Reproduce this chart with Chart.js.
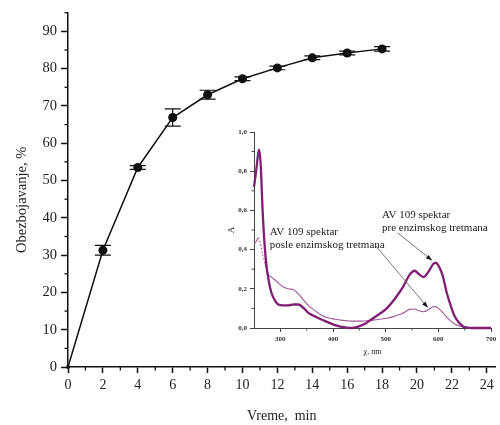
<!DOCTYPE html>
<html>
<head>
<meta charset="utf-8">
<script src="https://cdn.jsdelivr.net/npm/chart.js@4/dist/chart.umd.min.js"></script>
<style>
  html, body { margin: 0; padding: 0; background: #fff; }
  #wrap { position: relative; width: 500px; height: 425px; }
  #main { position: absolute; left: 0; top: 0; }
  #inset { position: absolute; left: 215px; top: 120px; }
</style>
</head>
<body>
<div id="wrap">
  <canvas id="main" width="500" height="425"></canvas>
  <canvas id="inset" width="285" height="245"></canvas>
</div>
<script>
// Obezbojavanje u vremenu (glavni grafik)
const vreme = [0, 2, 4, 6, 8, 10, 12, 14, 16, 18];
const obezbojavanje = [0, 31.3, 53.5, 66.9, 73.0, 77.3, 80.2, 82.9, 84.2, 85.3];
const greska = [0, 1.3, 0.5, 2.3, 1.2, 0.5, 0.5, 0.5, 0.5, 0.6];
const vremeTicks = [0, 2, 4, 6, 8, 10, 12, 14, 16, 18, 20, 22, 24];
const procTicks = [0, 10, 20, 30, 40, 50, 60, 70, 80, 90];

// UV-Vis spektar AV 109 (umetak)
const talasne = [250, 254, 258, 260, 263, 266, 270, 274, 278, 283, 290, 296, 305, 315, 325, 334,
  345, 353, 365, 378, 390, 404, 418, 430, 445, 460, 476, 490, 502, 515, 523, 533, 545, 555,
  563, 572, 582, 590, 595, 600, 608, 616, 624, 631, 640, 647, 655, 665, 680, 700];
const spektarPre = [0.72, 0.80, 0.89, 0.91, 0.82, 0.62, 0.43, 0.31, 0.24, 0.18, 0.14, 0.12, 0.115,
  0.115, 0.12, 0.12, 0.10, 0.077, 0.06, 0.043, 0.03, 0.015, 0.005, 0.0, 0.005, 0.02, 0.05, 0.075,
  0.10, 0.14, 0.17, 0.21, 0.27, 0.292, 0.275, 0.26, 0.29, 0.325, 0.333, 0.32, 0.27, 0.18, 0.11,
  0.06, 0.025, 0.008, 0.002, 0, 0, 0];
const spektarPosle = [0.43, 0.44, 0.46, 0.45, 0.42, 0.38, 0.34, 0.30, 0.27, 0.26, 0.245, 0.23, 0.21,
  0.20, 0.195, 0.175, 0.14, 0.115, 0.09, 0.065, 0.052, 0.045, 0.039, 0.036, 0.035, 0.036, 0.04,
  0.045, 0.05, 0.058, 0.066, 0.075, 0.095, 0.097, 0.088, 0.083, 0.095, 0.108, 0.109, 0.10, 0.08,
  0.055, 0.035, 0.02, 0.01, 0.005, 0.002, 0, 0, 0];
const nmTicks = [300, 400, 500, 600, 700];
const absTicks = [0, 0.2, 0.4, 0.6, 0.8, 1.0];

const serif = "'Liberation Serif', 'Times New Roman', serif";

// vertikalne linije greske sa kapicama
const errorBars = {
  id: 'errorBars',
  beforeDatasetsDraw(chart, args, opts) {
    if (!opts.errors) return;
    const {ctx, scales: {x, y}} = chart;
    const data = chart.data.datasets[0].data;
    ctx.save();
    ctx.strokeStyle = '#111';
    ctx.lineWidth = 1.2;
    data.forEach((p, i) => {
      const e = opts.errors[i];
      if (!e) return;
      const px = x.getPixelForValue(p.x);
      const top = y.getPixelForValue(p.y + e);
      const bot = y.getPixelForValue(p.y - e);
      ctx.beginPath();
      ctx.moveTo(px, top); ctx.lineTo(px, bot);
      ctx.moveTo(px - opts.cap, top); ctx.lineTo(px + opts.cap, top);
      ctx.moveTo(px - opts.cap, bot); ctx.lineTo(px + opts.cap, bot);
      ctx.stroke();
    });
    ctx.restore();
  }
};

// sitne podele izmedju glavnih podeoka
const minorTicks = {
  id: 'minorTicks',
  afterDraw(chart, args, opts) {
    const {ctx} = chart;
    ctx.save();
    ctx.strokeStyle = opts.color;
    ctx.lineWidth = opts.width;
    ['x', 'y'].forEach(id => {
      const s = chart.scales[id];
      const step = opts[id];
      const n = Math.round((s.max - s.min) / step);
      for (let i = 1; i <= n; i++) {
        const v = s.min + i * step;
        if (s.ticks.some(t => Math.abs(t.value - v) < 1e-6)) continue;
        const p = s.getPixelForValue(v);
        ctx.beginPath();
        if (id === 'x') { ctx.moveTo(p, s.top); ctx.lineTo(p, s.top + opts.len); }
        else { ctx.moveTo(s.right, p); ctx.lineTo(s.right - opts.len, p); }
        ctx.stroke();
      }
    });
    ctx.restore();
  }
};

// naslov y ose, malo ispod sredine ose
const yNaslov = {
  id: 'yNaslov',
  afterDraw(chart, args, opts) {
    const {ctx, chartArea} = chart;
    ctx.save();
    ctx.translate(opts.x, (chartArea.top + chartArea.bottom) / 2 + opts.dy);
    ctx.rotate(-Math.PI / 2);
    ctx.font = opts.size + 'px ' + serif;
    ctx.fillStyle = '#222';
    ctx.textAlign = 'center';
    ctx.textBaseline = 'middle';
    ctx.fillText(opts.text, 0, 0);
    ctx.restore();
  }
};

// natpisi i strelice u umetku
const opisi = {
  id: 'opisi',
  afterDatasetsDraw(chart, args, opts) {
    const {ctx, scales: {x, y}} = chart;
    ctx.save();
    ctx.font = '11px ' + serif;
    ctx.fillStyle = '#222';
    ctx.textBaseline = 'middle';
    opts.labels.forEach(l => {
      l.lines.forEach((t, i) => ctx.fillText(t, x.getPixelForValue(l.nm), y.getPixelForValue(l.a) + i * 13));
    });
    opts.arrows.forEach(a => {
      const x0 = x.getPixelForValue(a.from[0]), y0 = y.getPixelForValue(a.from[1]);
      const x1 = x.getPixelForValue(a.to[0]), y1 = y.getPixelForValue(a.to[1]);
      const ang = Math.atan2(y1 - y0, x1 - x0);
      ctx.strokeStyle = '#666';
      ctx.lineWidth = 0.9;
      ctx.beginPath(); ctx.moveTo(x0, y0); ctx.lineTo(x1, y1); ctx.stroke();
      ctx.fillStyle = '#111';
      ctx.beginPath();
      ctx.moveTo(x1, y1);
      ctx.lineTo(x1 - 6 * Math.cos(ang) + 2.2 * Math.sin(ang), y1 - 6 * Math.sin(ang) - 2.2 * Math.cos(ang));
      ctx.lineTo(x1 - 6 * Math.cos(ang) - 2.2 * Math.sin(ang), y1 - 6 * Math.sin(ang) + 2.2 * Math.cos(ang));
      ctx.closePath(); ctx.fill();
    });
    ctx.restore();
  }
};

new Chart(document.getElementById('main'), {
  type: 'line',
  data: {
    datasets: [{
      data: vreme.map((t, i) => ({x: t, y: obezbojavanje[i]})),
      borderColor: '#111',
      borderWidth: 1.5,
      pointRadius: vreme.map(t => t === 0 ? 2 : 4.5),
      pointBackgroundColor: '#111',
      pointBorderWidth: 0,
      tension: 0,
      clip: false
    }]
  },
  options: {
    responsive: false,
    animation: false,
    layout: {padding: {top: 12, right: 3, left: 0, bottom: 0}},
    plugins: {
      legend: {display: false},
      tooltip: {enabled: false},
      errorBars: {errors: greska, cap: 8},
      minorTicks: {x: 1, y: 5, len: 3.5, color: '#111', width: 1.3},
      yNaslov: {text: 'Obezbojavanje, %', x: 22, dy: 10, size: 14.5}
    },
    scales: {
      x: {
        type: 'linear', min: 0, max: 24.5,
        afterBuildTicks: s => { s.ticks = vremeTicks.map(v => ({value: v})); },
        afterFit: s => { s.height = 58; },
        border: {color: '#111', width: 1.5},
        grid: {drawOnChartArea: false, tickLength: 6, tickWidth: 1.5, tickColor: '#111'},
        ticks: {font: {family: serif, size: 14}, color: '#222', padding: 4, maxRotation: 0},
        title: {display: true, text: 'Vreme,  min', font: {family: serif, size: 14}, color: '#222', padding: {top: 0, bottom: 0}}
      },
      y: {
        type: 'linear', min: 0, max: 95,
        afterBuildTicks: s => { s.ticks = procTicks.map(v => ({value: v})); },
        afterFit: s => { s.width = 68; },
        border: {color: '#111', width: 1.5},
        grid: {drawOnChartArea: false, tickLength: 7, tickWidth: 1.5, tickColor: '#111'},
        ticks: {font: {family: serif, size: 14.5}, color: '#222', padding: 4}
      }
    }
  },
  plugins: [errorBars, minorTicks, yNaslov]
});

new Chart(document.getElementById('inset'), {
  type: 'line',
  data: {
    datasets: [{
      label: 'AV 109 pre',
      data: talasne.map((w, i) => ({x: w, y: spektarPre[i]})),
      borderColor: '#7e1f72',
      borderWidth: 2.3,
      pointRadius: 0,
      cubicInterpolationMode: 'monotone',
      clip: false
    }, {
      label: 'AV 109 posle',
      data: talasne.map((w, i) => ({x: w, y: spektarPosle[i]})),
      borderColor: '#a2569b',
      borderWidth: 1.1,
      pointRadius: 0,
      cubicInterpolationMode: 'monotone',
      clip: false,
      segment: {
        borderDash: c => (c.p0.parsed.x >= 258 && c.p1.parsed.x <= 270) ? [1.5, 2] : undefined
      }
    }]
  },
  options: {
    responsive: false,
    animation: false,
    layout: {padding: {top: 12, right: 9, left: 0, bottom: 0}},
    plugins: {
      legend: {display: false},
      tooltip: {enabled: false},
      minorTicks: {x: 50, y: 0.1, len: 2.5, color: '#444', width: 1},
      opisi: {
        labels: [
          {nm: 280, a: 0.49, lines: ['AV 109 spektar', 'posle enzimskog tretmana']},
          {nm: 493, a: 0.577, lines: ['AV 109 spektar', 'pre enzimskog tretmana']}
        ],
        arrows: [
          {from: [523, 0.485], to: [588, 0.345]},
          {from: [480, 0.423], to: [580, 0.104]}
        ]
      }
    },
    scales: {
      x: {
        type: 'linear', min: 250, max: 700,
        afterBuildTicks: s => { s.ticks = nmTicks.map(v => ({value: v})); },
        afterFit: s => { s.height = 37; },
        border: {color: '#444', width: 1},
        grid: {drawOnChartArea: false, tickLength: 4, tickWidth: 1, tickColor: '#444'},
        ticks: {font: {family: serif, size: 7, weight: 'bold'}, color: '#333', padding: 3, maxRotation: 0},
        title: {display: true, text: 'χ, nm', font: {family: serif, size: 8}, color: '#222', padding: {top: 0, bottom: 8}}
      },
      y: {
        type: 'linear', min: 0, max: 1,
        afterBuildTicks: s => { s.ticks = absTicks.map(v => ({value: v})); },
        afterFit: s => { s.width = 39; },
        border: {color: '#444', width: 1},
        grid: {drawOnChartArea: false, tickLength: 4, tickWidth: 1, tickColor: '#444'},
        ticks: {font: {family: serif, size: 7, weight: 'bold'}, color: '#333', padding: 3,
          callback: v => v.toFixed(1).replace('.', ',')},
        title: {display: true, text: 'A', font: {family: serif, size: 9}, color: '#222', padding: {top: 11, bottom: 0}}
      }
    }
  },
  plugins: [minorTicks, opisi]
});
</script>
</body>
</html>
